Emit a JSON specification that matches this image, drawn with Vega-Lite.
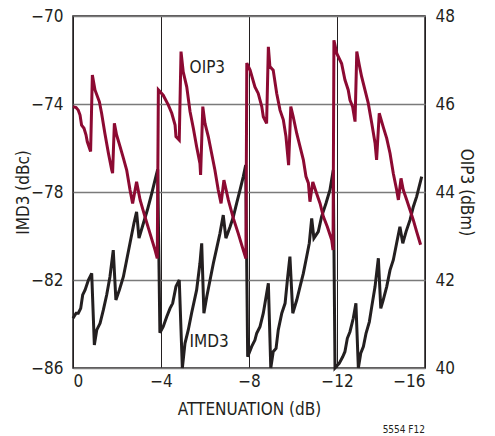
{
  "$schema": "https://vega.github.io/schema/vega-lite/v6.json",
  "width": 352,
  "height": 352,
  "autosize": {"type": "none"},
  "padding": {"left": 73, "top": 16, "right": 70, "bottom": 68},
  "background": "white",
  "config": {
    "font": "Liberation Sans Narrow, DejaVu Sans Condensed, sans-serif",
    "view": {"stroke": "#231f20", "strokeWidth": 1.5},
    "axis": {
      "labelFont": "Liberation Sans Narrow, DejaVu Sans Condensed, sans-serif",
      "titleFont": "Liberation Sans Narrow, DejaVu Sans Condensed, sans-serif",
      "labelFontSize": 17,
      "titleFontSize": 17,
      "titleFontWeight": "normal",
      "labelColor": "#231f20",
      "titleColor": "#231f20",
      "ticks": false,
      "tickSize": 0,
      "domain": false
    }
  },
  "title": {
    "text": "5554 F12",
    "orient": "bottom",
    "anchor": "end",
    "frame": "group",
    "fontSize": 10,
    "fontWeight": "normal",
    "font": "Liberation Sans Narrow, DejaVu Sans Condensed, sans-serif",
    "color": "#231f20",
    "offset": 8
  },
  "datasets": {
    "imd3": [
      {"x": 0, "y": -83.74}, {"x": -0.14, "y": -83.51}, {"x": -0.24, "y": -83.51}, {"x": -0.35, "y": -83.29},
      {"x": -0.44, "y": -82.68}, {"x": -0.55, "y": -82.45}, {"x": -0.7, "y": -82.0}, {"x": -0.85, "y": -81.7},
      {"x": -0.97, "y": -84.95}, {"x": -1.08, "y": -84.27}, {"x": -1.23, "y": -83.97}, {"x": -1.38, "y": -83.36},
      {"x": -1.53, "y": -82.68}, {"x": -1.68, "y": -81.85}, {"x": -1.83, "y": -80.64}, {"x": -1.95, "y": -82.91},
      {"x": -2.11, "y": -82.45}, {"x": -2.29, "y": -81.85}, {"x": -2.44, "y": -81.09}, {"x": -2.59, "y": -80.33},
      {"x": -2.77, "y": -79.42}, {"x": -2.89, "y": -78.9}, {"x": -3.0, "y": -80.1}, {"x": -3.2, "y": -79.42},
      {"x": -3.38, "y": -78.82}, {"x": -3.58, "y": -78.06}, {"x": -3.73, "y": -77.45}, {"x": -3.85, "y": -76.97},
      {"x": -3.95, "y": -84.4}, {"x": -4.1, "y": -84.12}, {"x": -4.26, "y": -83.67}, {"x": -4.41, "y": -83.29},
      {"x": -4.53, "y": -83.06}, {"x": -4.68, "y": -82.3}, {"x": -4.83, "y": -82.0}, {"x": -4.97, "y": -86.0},
      {"x": -5.09, "y": -84.88}, {"x": -5.24, "y": -84.27}, {"x": -5.39, "y": -83.51}, {"x": -5.62, "y": -82.45},
      {"x": -5.77, "y": -81.24}, {"x": -5.85, "y": -80.33}, {"x": -5.95, "y": -83.51}, {"x": -6.08, "y": -82.76},
      {"x": -6.23, "y": -82.0}, {"x": -6.38, "y": -81.24}, {"x": -6.53, "y": -80.56}, {"x": -6.68, "y": -79.88},
      {"x": -6.83, "y": -79.05}, {"x": -6.95, "y": -80.1}, {"x": -7.14, "y": -79.58}, {"x": -7.29, "y": -79.12},
      {"x": -7.44, "y": -78.51}, {"x": -7.59, "y": -77.91}, {"x": -7.74, "y": -77.3}, {"x": -7.85, "y": -76.77},
      {"x": -7.94, "y": -85.49}, {"x": -8.12, "y": -85.03}, {"x": -8.27, "y": -84.73}, {"x": -8.35, "y": -84.42},
      {"x": -8.5, "y": -84.12}, {"x": -8.65, "y": -83.51}, {"x": -8.88, "y": -82.15}, {"x": -8.99, "y": -86.0},
      {"x": -9.1, "y": -85.26}, {"x": -9.23, "y": -85.11}, {"x": -9.33, "y": -84.27}, {"x": -9.49, "y": -83.51},
      {"x": -9.64, "y": -83.06}, {"x": -9.76, "y": -81.85}, {"x": -9.86, "y": -80.94}, {"x": -9.99, "y": -83.51},
      {"x": -10.17, "y": -82.91}, {"x": -10.32, "y": -82.3}, {"x": -10.47, "y": -81.7}, {"x": -10.62, "y": -80.94},
      {"x": -10.74, "y": -80.33}, {"x": -10.85, "y": -79.2}, {"x": -10.95, "y": -80.1}, {"x": -11.15, "y": -79.8},
      {"x": -11.3, "y": -79.12}, {"x": -11.5, "y": -78.51}, {"x": -11.68, "y": -77.91}, {"x": -11.83, "y": -77.0},
      {"x": -11.91, "y": -86.0}, {"x": -12.1, "y": -85.79}, {"x": -12.26, "y": -85.49}, {"x": -12.36, "y": -85.26},
      {"x": -12.47, "y": -84.65}, {"x": -12.59, "y": -84.35}, {"x": -12.74, "y": -83.74}, {"x": -12.86, "y": -83.06},
      {"x": -12.97, "y": -86.0}, {"x": -13.08, "y": -85.33}, {"x": -13.2, "y": -85.03}, {"x": -13.32, "y": -84.42},
      {"x": -13.47, "y": -83.9}, {"x": -13.58, "y": -83.21}, {"x": -13.73, "y": -82.3}, {"x": -13.88, "y": -81.01},
      {"x": -13.99, "y": -83.29}, {"x": -14.1, "y": -82.91}, {"x": -14.26, "y": -82.3}, {"x": -14.41, "y": -81.55},
      {"x": -14.56, "y": -81.09}, {"x": -14.71, "y": -80.33}, {"x": -14.86, "y": -79.58}, {"x": -14.99, "y": -80.33},
      {"x": -15.14, "y": -79.8}, {"x": -15.32, "y": -79.27}, {"x": -15.47, "y": -78.67}, {"x": -15.62, "y": -78.21},
      {"x": -15.85, "y": -77.3}
    ],
    "oip3": [
      {"x": 0, "y": 45.94}, {"x": -0.14, "y": 45.92}, {"x": -0.24, "y": 45.86}, {"x": -0.32, "y": 45.75},
      {"x": -0.39, "y": 45.52}, {"x": -0.5, "y": 45.45}, {"x": -0.59, "y": 45.3}, {"x": -0.65, "y": 45.14},
      {"x": -0.8, "y": 44.92}, {"x": -0.88, "y": 46.66}, {"x": -1.0, "y": 46.32}, {"x": -1.2, "y": 46.05},
      {"x": -1.3, "y": 45.79}, {"x": -1.45, "y": 45.33}, {"x": -1.61, "y": 44.88}, {"x": -1.76, "y": 44.5},
      {"x": -1.8, "y": 44.43}, {"x": -1.88, "y": 45.56}, {"x": -1.98, "y": 45.3}, {"x": -2.14, "y": 45.03},
      {"x": -2.29, "y": 44.77}, {"x": -2.44, "y": 44.5}, {"x": -2.59, "y": 44.05}, {"x": -2.71, "y": 43.74},
      {"x": -2.89, "y": 44.23}, {"x": -3.05, "y": 43.82}, {"x": -3.27, "y": 43.44}, {"x": -3.5, "y": 43.06},
      {"x": -3.73, "y": 42.68}, {"x": -3.83, "y": 42.49}, {"x": -3.88, "y": 46.32}, {"x": -4.1, "y": 46.2},
      {"x": -4.33, "y": 45.98}, {"x": -4.49, "y": 45.79}, {"x": -4.64, "y": 45.52}, {"x": -4.68, "y": 45.26},
      {"x": -4.83, "y": 45.18}, {"x": -4.91, "y": 47.19}, {"x": -5.01, "y": 46.73}, {"x": -5.17, "y": 46.39},
      {"x": -5.32, "y": 45.83}, {"x": -5.47, "y": 45.45}, {"x": -5.62, "y": 45.03}, {"x": -5.77, "y": 44.65},
      {"x": -5.8, "y": 44.39}, {"x": -5.9, "y": 45.94}, {"x": -6.0, "y": 45.56}, {"x": -6.15, "y": 45.26},
      {"x": -6.3, "y": 44.88}, {"x": -6.45, "y": 44.5}, {"x": -6.6, "y": 44.05}, {"x": -6.73, "y": 43.74},
      {"x": -6.86, "y": 44.27}, {"x": -7.06, "y": 43.82}, {"x": -7.29, "y": 43.4}, {"x": -7.51, "y": 43.06},
      {"x": -7.74, "y": 42.68}, {"x": -7.86, "y": 42.49}, {"x": -7.9, "y": 46.93}, {"x": -8.05, "y": 46.77},
      {"x": -8.27, "y": 46.39}, {"x": -8.42, "y": 46.24}, {"x": -8.58, "y": 45.94}, {"x": -8.65, "y": 45.71},
      {"x": -8.8, "y": 45.56}, {"x": -8.88, "y": 47.3}, {"x": -8.95, "y": 46.85}, {"x": -9.1, "y": 46.77},
      {"x": -9.26, "y": 46.24}, {"x": -9.41, "y": 45.86}, {"x": -9.56, "y": 45.64}, {"x": -9.68, "y": 45.26},
      {"x": -9.8, "y": 44.61}, {"x": -9.9, "y": 45.94}, {"x": -10.01, "y": 45.71}, {"x": -10.17, "y": 45.33},
      {"x": -10.32, "y": 45.03}, {"x": -10.47, "y": 44.73}, {"x": -10.59, "y": 44.35}, {"x": -10.7, "y": 44.2},
      {"x": -10.77, "y": 43.78}, {"x": -10.9, "y": 44.23}, {"x": -11.05, "y": 44.0}, {"x": -11.23, "y": 43.74},
      {"x": -11.38, "y": 43.44}, {"x": -11.56, "y": 43.21}, {"x": -11.76, "y": 42.91}, {"x": -11.82, "y": 42.68},
      {"x": -11.86, "y": 47.45}, {"x": -11.99, "y": 47.15}, {"x": -12.21, "y": 46.92}, {"x": -12.36, "y": 46.55},
      {"x": -12.51, "y": 46.32}, {"x": -12.59, "y": 46.09}, {"x": -12.71, "y": 45.94}, {"x": -12.82, "y": 45.6},
      {"x": -12.9, "y": 47.19}, {"x": -13.01, "y": 46.89}, {"x": -13.12, "y": 46.62}, {"x": -13.27, "y": 46.32},
      {"x": -13.42, "y": 46.02}, {"x": -13.58, "y": 45.56}, {"x": -13.73, "y": 45.11}, {"x": -13.8, "y": 44.73},
      {"x": -13.92, "y": 45.79}, {"x": -14.1, "y": 45.48}, {"x": -14.26, "y": 45.22}, {"x": -14.41, "y": 44.88},
      {"x": -14.56, "y": 44.42}, {"x": -14.71, "y": 44.05}, {"x": -14.79, "y": 43.82}, {"x": -14.91, "y": 44.31},
      {"x": -15.01, "y": 44.05}, {"x": -15.17, "y": 43.82}, {"x": -15.32, "y": 43.59}, {"x": -15.47, "y": 43.36},
      {"x": -15.62, "y": 43.1}, {"x": -15.8, "y": 42.8}
    ],
    "labels": [
      {"x": -5.3, "y": -72.36, "label": "OIP3"},
      {"x": -5.3, "y": -84.8, "label": "IMD3"}
    ]
  },
  "layer": [
    {
      "data": {"name": "imd3"},
      "mark": {"type": "line", "color": "#231f20", "strokeWidth": 3, "strokeJoin": "miter"},
      "encoding": {
        "x": {
          "field": "x", "type": "quantitative",
          "scale": {"domain": [0, -16], "nice": false},
          "axis": {
            "values": [0, -4, -8, -12, -16],
            "title": "ATTENUATION (dB)",
            "labelPadding": 5,
            "titlePadding": 12,
            "grid": true,
            "gridColor": "#231f20",
            "gridWidth": 1,
            "gridOpacity": 1
          }
        },
        "y": {
          "field": "y", "type": "quantitative",
          "scale": {"domain": [-86, -70], "nice": false, "zero": false},
          "axis": {
            "orient": "left",
            "values": [-86, -82, -78, -74, -70],
            "title": "IMD3 (dBc)",
            "labelPadding": 10,
            "titlePadding": -2,
            "grid": true,
            "gridColor": "#7a7a7a",
            "gridWidth": 1.5,
            "gridOpacity": 1
          }
        }
      }
    },
    {
      "data": {"name": "oip3"},
      "mark": {"type": "line", "color": "#8c0a32", "strokeWidth": 3, "strokeJoin": "miter"},
      "encoding": {
        "x": {"field": "x", "type": "quantitative"},
        "y": {
          "field": "y", "type": "quantitative",
          "scale": {"domain": [40, 48], "nice": false, "zero": false},
          "axis": {
            "orient": "right",
            "values": [40, 42, 44, 46, 48],
            "title": "OIP3 (dBm)",
            "labelPadding": 10,
            "titlePadding": 2,
            "grid": false
          }
        }
      }
    },
    {
      "data": {"name": "labels"},
      "mark": {"type": "text", "align": "left", "baseline": "middle", "fontSize": 17, "color": "#231f20", "font": "Liberation Sans Narrow, DejaVu Sans Condensed, sans-serif"},
      "encoding": {
        "x": {"field": "x", "type": "quantitative"},
        "y": {"field": "y", "type": "quantitative", "scale": {"domain": [-86, -70], "nice": false, "zero": false}, "axis": null},
        "text": {"field": "label"}
      }
    }
  ],
  "resolve": {"scale": {"y": "independent"}, "axis": {"y": "independent"}}
}
